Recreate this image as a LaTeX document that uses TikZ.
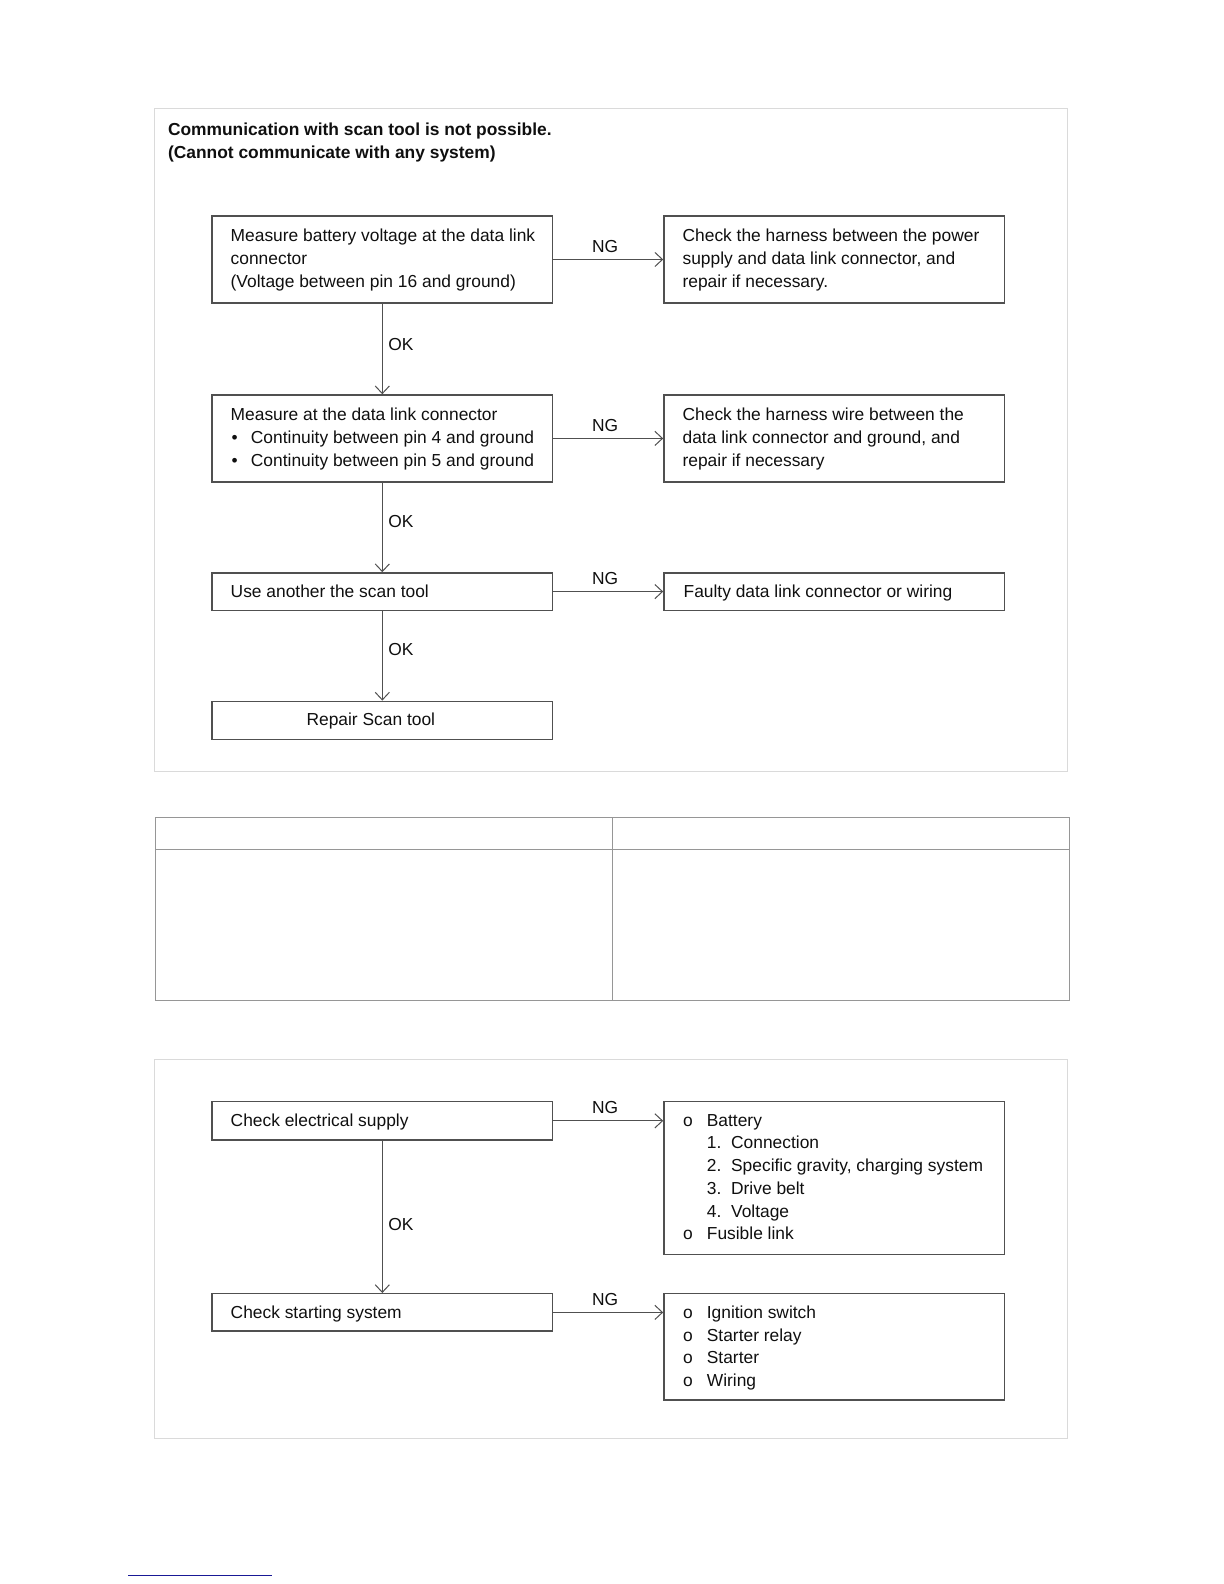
\documentclass[tikz,border=0pt]{standalone}
\usepackage{fontspec}
\setmainfont{Liberation Sans}
\usetikzlibrary{arrows.meta}
\definecolor{boxc}{RGB}{80,80,80}
\definecolor{framec}{RGB}{218,218,218}
\definecolor{tablec}{RGB}{150,150,150}
\definecolor{linkc}{RGB}{25,25,150}
\definecolor{inkc}{RGB}{15,15,15}
\begin{document}
\begin{tikzpicture}[x=1pt,y=-1pt,
  every node/.style={font=\fontsize{17.2}{22.5}\selectfont, inner sep=0pt, text=inkc},
  stepbox/.style={draw=boxc, line width=1.3pt, minimum width=337pt, anchor=north west, inner sep=0pt},
  txt/.style={anchor=base west},
  conn/.style={draw=boxc, line width=1pt, -{Straight Barb[length=7.5pt,width=14pt]}},
  nglbl/.style={midway, above=6.5pt, xshift=-3pt},
  oklbl/.style={right=5.5pt},
]
\useasboundingbox (0,0) rectangle (1210.7,1566.8);

% ---------- frames ----------
\draw[framec, line width=1pt] (153,107) rectangle (1056,763);
\draw[framec, line width=1pt] (153,1048) rectangle (1056,1423);

% ---------- title ----------
\node[txt, font=\fontsize{17.2}{22.5}\selectfont\bfseries] (t1) at (166,134.5) {Communication with scan tool is not possible.};
\node[txt, font=\fontsize{17.2}{22.5}\selectfont\bfseries] (t2) at (166,157) {(Cannot communicate with any system)};

% ---------- upper flowchart boxes ----------
\node[stepbox, minimum height=86pt] (b1) at (209,213) {};
\node[stepbox, minimum height=86pt] (r1) at (656,213) {};
\node[stepbox, minimum height=86pt] (b2) at (209,390) {};
\node[stepbox, minimum height=86pt] (r2) at (656,390) {};
\node[stepbox, minimum height=37pt] (b3) at (209,566) {};
\node[stepbox, minimum height=37pt] (r3) at (656,566) {};
\node[stepbox, minimum height=38pt] (b4) at (209,693) {};

% texts
\node[txt] (b1a) at (228,239) {Measure battery voltage at the data link};
\node[txt] (b1b) at (228,261.5) {connector};
\node[txt] (b1c) at (228,284) {(Voltage between pin 16 and ground)};
\node[txt] (r1a) at (675,239) {Check the harness between the power};
\node[txt] (r1b) at (675,261.5) {supply and data link connector, and};
\node[txt] (r1c) at (675,284) {repair if necessary.};

\node[txt] (b2a) at (228,416) {Measure at the data link connector};
\node[txt] (b2d1) at (229,438.5) {•};
\node[txt] (b2b) at (248,438.5) {Continuity between pin 4 and ground};
\node[txt] (b2d2) at (229,461) {•};
\node[txt] (b2c) at (248,461) {Continuity between pin 5 and ground};
\node[txt] (r2a) at (675,416) {Check the harness wire between the};
\node[txt] (r2b) at (675,438.5) {data link connector and ground, and};
\node[txt] (r2c) at (675,461) {repair if necessary};

\node[txt] (b3a) at (228,591) {Use another the scan tool};
\node[txt] (r3a) at (676,591) {Faulty data link connector or wiring};
\node[txt] (b4a) at (303,718) {Repair Scan tool};

% connectors
\draw[conn] (b1.east) -- (r1.west) node[nglbl] (ng1) {NG};
\draw[conn] (b2.east) -- (r2.west) node[nglbl] (ng2) {NG};
\draw[conn] (b3.east) -- (r3.west) node[nglbl] (ng3) {NG};
\draw[conn] (b1.south) -- (b2.north) node[pos=0.446, oklbl] (ok1) {OK};
\draw[conn] (b2.south) -- (b3.north) node[pos=0.43, oklbl] (ok2) {OK};
\draw[conn] (b3.south) -- (b4.north) node[pos=0.43, oklbl] (ok3) {OK};

% ---------- table ----------
\draw[tablec, line width=1pt] (154,809) rectangle (1058,990);
\draw[tablec, line width=1.4pt] (154,840) -- (1058,840);
\draw[tablec, line width=1pt] (606,809) -- (606,990);

% ---------- lower flowchart ----------
\node[stepbox, minimum height=38pt] (c1) at (209,1089) {};
\node[stepbox, minimum height=151pt] (d1) at (656,1089) {};
\node[stepbox, minimum height=37pt] (c2) at (209,1279) {};
\node[stepbox, minimum height=105pt] (d2) at (656,1279) {};

\node[txt] (c1a) at (228,1114) {Check electrical supply};
\node[txt] (c2a) at (228,1304) {Check starting system};

\node[txt] (d1o1) at (675.5,1114) {o};
\node[txt] (d1a) at (699,1114) {Battery};
\node[txt] (d1n1) at (699,1136.5) {1.};
\node[txt] (d1b) at (723,1136.5) {Connection};
\node[txt] (d1n2) at (699,1159) {2.};
\node[txt] (d1c) at (723,1159) {Specific gravity, charging system};
\node[txt] (d1n3) at (699,1181.5) {3.};
\node[txt] (d1d) at (723,1181.5) {Drive belt};
\node[txt] (d1n4) at (699,1204) {4.};
\node[txt] (d1e) at (723,1204) {Voltage};
\node[txt] (d1o2) at (675.5,1226.5) {o};
\node[txt] (d1f) at (699,1226.5) {Fusible link};

\node[txt] (d2o1) at (675.5,1304) {o};
\node[txt] (d2a) at (699,1304) {Ignition switch};
\node[txt] (d2o2) at (675.5,1326.5) {o};
\node[txt] (d2b) at (699,1326.5) {Starter relay};
\node[txt] (d2o3) at (675.5,1349) {o};
\node[txt] (d2c) at (699,1349) {Starter};
\node[txt] (d2o4) at (675.5,1371.5) {o};
\node[txt] (d2d) at (699,1371.5) {Wiring};

\draw[conn] (c1.east) -- (c1.east -| d1.west) node[nglbl] (ng4) {NG};
\draw[conn] (c2.east) -- (c2.east -| d2.west) node[nglbl] (ng5) {NG};
\draw[conn] (c1.south) -- (c2.north) node[pos=0.55, oklbl] (ok4) {OK};

% ---------- bottom link line ----------
\coordinate (la) at (127,1558);
\coordinate (lb) at (269,1558);
\draw[linkc, line width=1.2pt] (la) -- (lb);
\end{tikzpicture}
\end{document}
